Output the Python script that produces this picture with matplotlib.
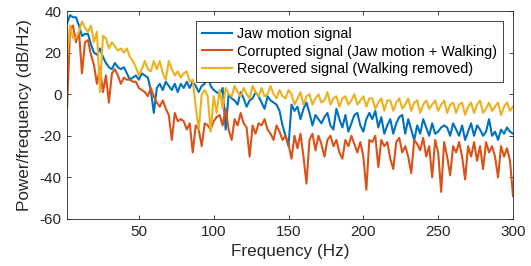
import matplotlib
matplotlib.use('Agg')
import matplotlib.pyplot as plt
import numpy as np

#frequency bins (Hz)
freq = np.arange(2, 302, 2)

#power spectral density (dB/Hz)
jaw_psd = [
    34, 38, 37, 37, 33, 28, 29, 29, 24, 20,
    19, 22, 18, 15, 13, 12, 15, 13, 12, 13,
    10, 7, 8, 9, 7, 10, 9, 8, 2, -9,
    3, 5, 2, 6, 4, 2, 5, 1, 5, 3,
    6, 3, 6, 4, 1, 4, 5, 9, 4, 2,
    1, 0, 3, -17, 0, -2, -3, -5, 1, -2,
    -6, -3, -2, 1, -1, -4, -7, -1, -3, -4,
    -5, -8, -15, -20, -25, -5, -8, -6, -12, -7,
    -4, -9, -15, -10, -12, -14, -11, -9, -15, -17,
    -7, -12, -16, -10, -18, -14, -10, -9, -15, -18,
    -12, -9, -12, -8, -16, -11, -19, -15, -12, -19,
    -14, -11, -10, -19, -12, -17, -22, -15, -19, -12,
    -16, -20, -14, -19, -18, -16, -15, -16, -20, -14,
    -17, -20, -15, -22, -18, -14, -20, -15, -17, -20,
    -18, -12, -20, -18, -22, -17, -19, -16, -18, -19,
]
corrupted_psd = [
    -7, 31, 33, 25, 30, 10, 25, 26, 19, 14,
    5, 13, 1, 9, -4, 10, 12, 9, 5, 8,
    7, 7, 6, 6, 3, 2, 1, -1, 3, -1,
    -4, -6, -3, -7, -10, -22, -9, -13, -12, -13,
    -17, -14, -28, -15, -17, -25, -14, -15, -17, -13,
    -11, -10, -15, -7, -17, -22, -12, -15, -9, -14,
    -16, -30, -15, -19, -14, -15, -12, -17, -19, -22,
    -15, -18, -22, -20, -24, -31, -20, -26, -19, -30,
    -43, -22, -19, -27, -20, -24, -30, -22, -20, -25,
    -22, -28, -31, -22, -25, -20, -24, -28, -23, -30,
    -46, -22, -23, -20, -35, -22, -25, -23, -31, -36,
    -23, -21, -28, -25, -30, -38, -22, -24, -27, -21,
    -30, -25, -40, -22, -28, -47, -23, -30, -39, -25,
    -28, -23, -30, -41, -25, -30, -23, -32, -25, -36,
    -23, -28, -25, -30, -40, -25, -30, -26, -32, -49,
]
recovered_psd = [
    17, 33, 27, 27, 30, 35, 32, 30, 33, 25,
    30, 1, 28, 27, 22, 25, 23, 21, 22, 20,
    22, 18, 16, 13, 9, 12, 16, 12, 11, 16,
    12, 16, 10, 7, 16, 12, 9, 11, 8, 10,
    11, 6, 7, -6, -17, 0, 2, -1, -18, -1,
    -9, 2, -7, 3, 0, -1, 4, 1, -1, 3,
    0, -2, 4, 1, -1, 3, -1, 0, 4, 0,
    -2, 2, -1, -2, 2, 0, -5, -2, 1, -5,
    -1, 0, -5, -2, 0, -4, -3, 1, -5, -2,
    -1, -6, -2, -1, -5, -3, 0, -5, -3, -1,
    -6, -2, -2, -7, -4, -2, -8, -3, -3, -8,
    -4, -2, -7, -5, -2, -8, -4, -3, -9, -5,
    -3, -7, -5, -3, -8, -5, -3, -9, -5, -4,
    -9, -5, -4, -10, -6, -4, -9, -5, -3, -9,
    -7, -4, -8, -6, -4, -10, -6, -4, -8, -6,
]

labels = ['Jaw motion signal',
          'Corrupted signal (Jaw motion + Walking)',
          'Recovered signal (Walking removed)']
colors = ['#0072BD', '#D95319', '#EDB120']

xticks = [50, 100, 150, 200, 250, 300]
yticks = [-60, -40, -20, 0, 20, 40]

plt.rcParams['font.family'] = ['Liberation Sans', 'DejaVu Sans']
plt.rcParams['axes.unicode_minus'] = False

fig = plt.figure(figsize=(5.31, 2.66), dpi=100)
ax = fig.add_axes([0.1262, 0.1767, 0.8399, 0.7819])

for psd, lab, col in zip([jaw_psd, corrupted_psd, recovered_psd], labels, colors):
    ax.plot(freq, psd, color=col, lw=1.5, label=lab)

ax.set_xlim(2, 300)
ax.set_ylim(-60, 40)
ax.set_xticks(xticks)
ax.set_yticks(yticks)
ax.tick_params(direction='in', length=3, width=0.6, top=True, right=True,
               labelsize=11, colors='#262626', pad=4)
for s in ax.spines.values():
    s.set_linewidth(0.6)
    s.set_color('#262626')

ax.set_xlabel('Frequency (Hz)', fontsize=12.3, color='#262626', labelpad=4)
ax.set_ylabel('Power/frequency (dB/Hz)', fontsize=12.3, color='#262626')
ax.yaxis.set_label_coords(-0.078, 0.5)

leg = ax.legend(loc='upper right', fontsize=10.4, frameon=True, fancybox=False,
                framealpha=1, edgecolor='#262626', handlelength=2.1,
                labelspacing=0.25, borderpad=0.4, handletextpad=0.35,
                borderaxespad=0.7)
leg.get_frame().set_linewidth(0.6)

fig.savefig('out.png', dpi=100)
